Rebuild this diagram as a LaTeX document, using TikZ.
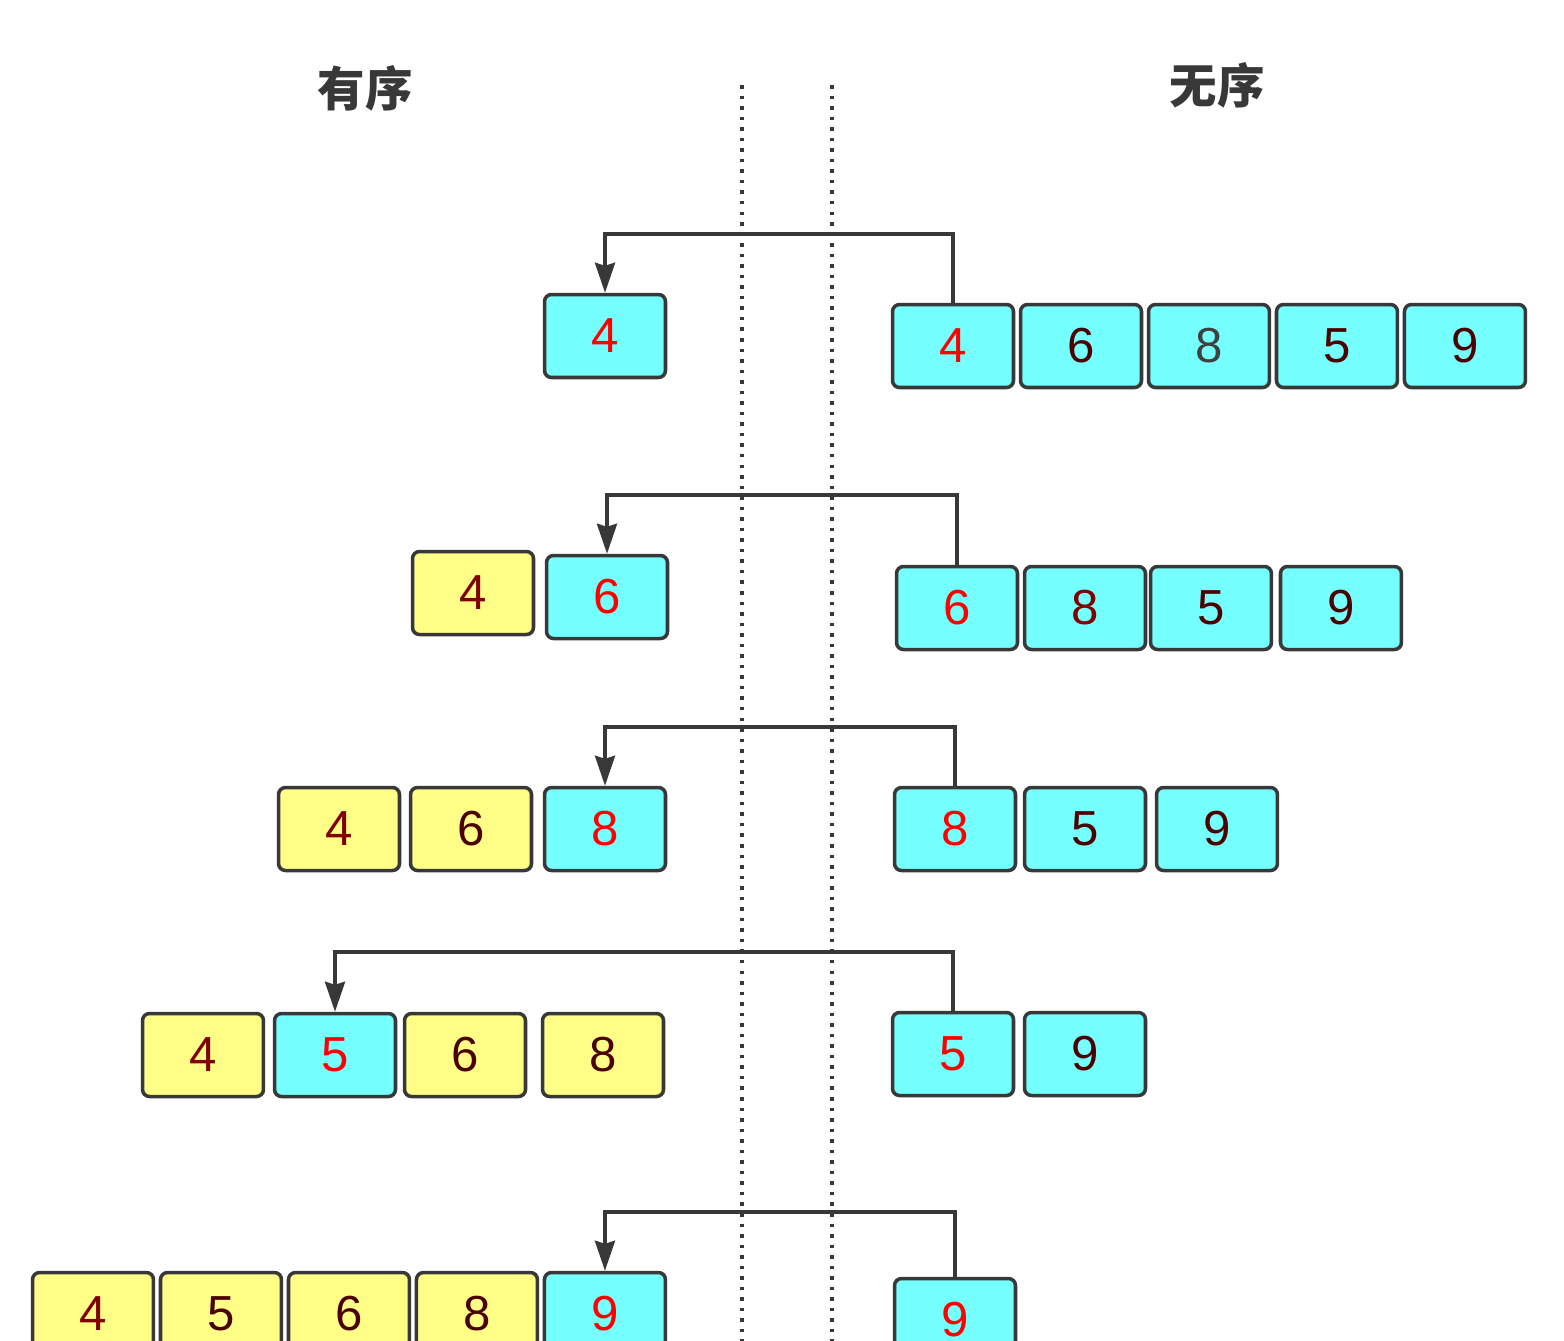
\documentclass[tikz,border=0pt]{standalone}
\usepackage{fontspec}
\setmainfont{Liberation Sans}
\newfontfamily\cjk{Noto Sans CJK SC}
\usetikzlibrary{arrows.meta,positioning}

\definecolor{boxcyan}{HTML}{75FFFF}
\definecolor{boxyel}{HTML}{FFFF88}
\definecolor{edge}{HTML}{383838}
\definecolor{numdk}{HTML}{4C0000}
\definecolor{numdr}{HTML}{800000}
\definecolor{numgr}{HTML}{404040}

\begin{document}
\begin{tikzpicture}[
  x=0.02cm, y=-0.02cm,
  nd/.style={draw=edge, line width=2pt, rounded corners=4pt,
             minimum width=2.42cm, minimum height=1.66cm, inner sep=0pt,
             font=\fontsize{28}{30}\selectfont, text=numdk},
  cy/.style={nd, fill=boxcyan},
  yl/.style={nd, fill=boxyel},
  hl/.style={text=red},
  dr/.style={text=numdr},
  ttl/.style={font=\cjk\bfseries\fontsize{27}{30}\selectfont, text=edge},
  ar/.style={-{Stealth[length=6mm, width=4mm, inset=0.6mm]}, draw=edge, line width=2pt},
  sep/.style={draw=edge, line width=2pt, dash pattern=on 2pt off 4pt}
]
  \useasboundingbox (0,0) rectangle (1564,1340);
  \clip (0,0) rectangle (1564,1340);

  % headings
  \node[ttl] (tord) at (365,88) {有序};
  \node[ttl] (tuno) at (1217,85) {无序};

  % separators
  \coordinate (d1t) at (742,85);  \coordinate (d1b) at (742,1345);
  \coordinate (d2t) at (832,85);  \coordinate (d2b) at (832,1345);
  \draw[sep] (d1t) -- (d1b);
  \draw[sep] (d2t) -- (d2b);

  % pass 1
  \node[cy, hl] (o1a) at (605,336) {4};
  \node[cy, hl] (u1a) at (953,346) {4};
  \node[cy, right=0.7mm of u1a] (u1b) {6};
  \node[cy, right=0.7mm of u1b, text=numgr] (u1c) {8};
  \node[cy, right=0.7mm of u1c] (u1d) {5};
  \node[cy, right=0.7mm of u1d] (u1e) {9};

  % pass 2
  \node[yl, dr] (o2a) at (473,593) {4};
  \node[cy, hl] (o2b) at (607,597) {6};
  \node[cy, hl] (u2a) at (957,608) {6};
  \node[cy, dr, right=0.7mm of u2a] (u2b) {8};
  \node[cy, right=0.3mm of u2b] (u2c) {5};
  \node[cy, right=1.1mm of u2c] (u2d) {9};

  % pass 3
  \node[yl, dr] (o3a) at (339,829) {4};
  \node[yl] (o3b) at (471,829) {6};
  \node[cy, hl] (o3c) at (605,829) {8};
  \node[cy, hl] (u3a) at (955,829) {8};
  \node[cy, right=1.1mm of u3a] (u3b) {5};
  \node[cy, right=1.5mm of u3b] (u3c) {9};

  % pass 4
  \node[yl, dr] (o4a) at (203,1055) {4};
  \node[cy, hl] (o4b) at (335,1055) {5};
  \node[yl] (o4c) at (465,1055) {6};
  \node[yl] (o4d) at (603,1055) {8};
  \node[cy, hl] (u4a) at (953,1054) {5};
  \node[cy, right=1.5mm of u4a] (u4b) {9};

  % pass 5
  \node[yl, dr] (o5a) at (93,1314) {4};
  \node[yl, right=0.7mm of o5a] (o5b) {5};
  \node[yl, right=0.7mm of o5b] (o5c) {6};
  \node[yl, right=0.7mm of o5c] (o5d) {8};
  \node[cy, hl, right=0.7mm of o5d] (o5e) {9};
  \node[cy, hl] (u5a) at (955,1320) {9};

  % moves
  \coordinate (k1) at (0,234);
  \coordinate (k2) at (0,495);
  \coordinate (k3) at (0,727);
  \coordinate (k4) at (0,952);
  \coordinate (k5) at (0,1212);
  \draw[ar] (u1a.north) -- (u1a.north |- k1) -| (o1a.north);
  \draw[ar] (u2a.north) -- (u2a.north |- k2) -| (o2b.north);
  \draw[ar] (u3a.north) -- (u3a.north |- k3) -| (o3c.north);
  \draw[ar] (u4a.north) -- (u4a.north |- k4) -| (o4b.north);
  \draw[ar] (u5a.north) -- (u5a.north |- k5) -| (o5e.north);

\end{tikzpicture}
\end{document}
